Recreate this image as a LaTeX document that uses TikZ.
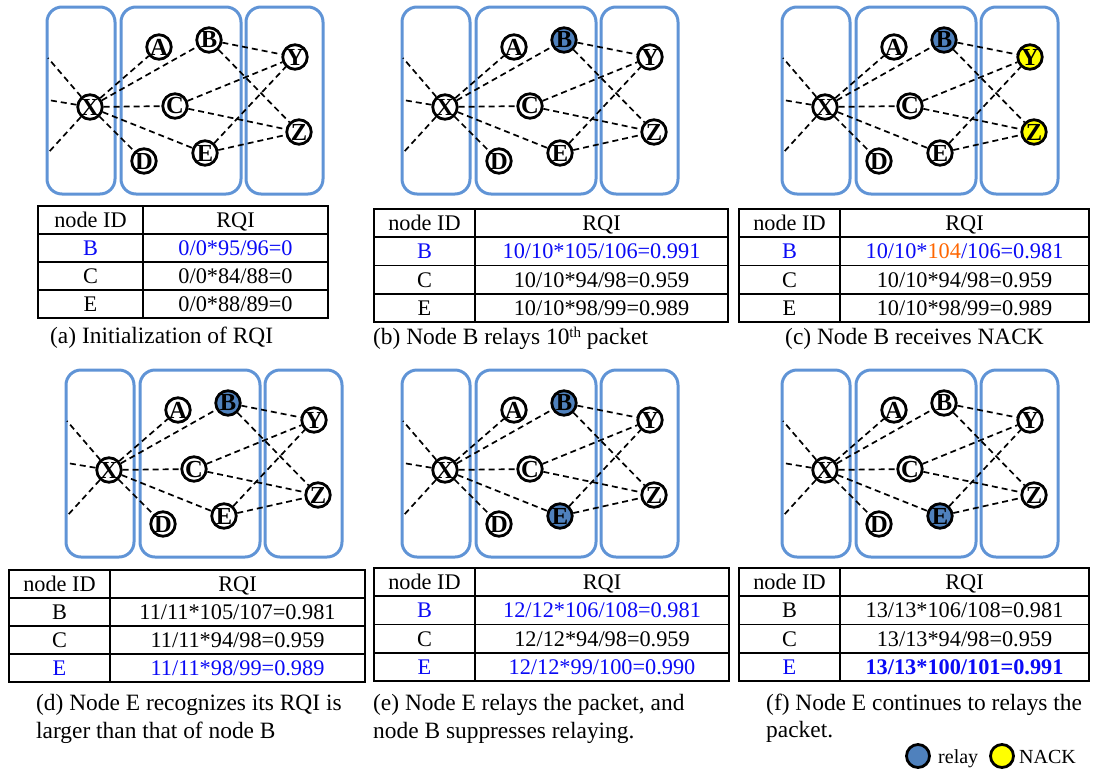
\documentclass[tikz,border=0pt]{standalone}
\usepackage{fontspec}
\setmainfont{Liberation Serif}
\definecolor{boxblue}{RGB}{96,148,214}
\definecolor{relayblue}{RGB}{79,129,189}
\definecolor{nackyellow}{RGB}{255,255,0}
\definecolor{txtblue}{RGB}{10,10,245}
\definecolor{txtorange}{RGB}{255,102,0}
\tikzset{
 grp/.style={draw=boxblue, line width=3pt, rounded corners=15pt},
 nd/.style={circle, draw=black, line width=2.8pt, minimum size=24.5pt, inner sep=0pt,
   font=\fontsize{24.5}{24.5}\selectfont\bfseries, fill=white},
 relay/.style={fill=relayblue},
 nack/.style={fill=nackyellow},
 link/.style={dash pattern=on 6pt off 4pt, line width=1.7pt},
 tline/.style={line width=1.6pt},
 ttxt/.style={font=\fontsize{22.3}{26}\selectfont, inner sep=0pt, text height=14.8pt, text depth=0pt},
 captxt/.style={font=\fontsize{23.4}{28}\selectfont, anchor=base west, inner sep=0pt},
 legtxt/.style={font=\fontsize{20}{24}\selectfont, anchor=base west, inner sep=0pt},
}
\newcommand\panel[7]{%
\begin{scope}[shift={(#2,#3)}]
 \draw[grp] (47,7) rectangle (115,194);
 \draw[grp] (121,7) rectangle (241,194);
 \draw[grp] (246,7) rectangle (323,194);
 \node[nd] (#1X) at (90,107) {X};
 \node[nd] (#1A) at (159,47) {A};
 \node[nd,#4] (#1B) at (209,40) {B};
 \node[nd] (#1C) at (175,106) {C};
 \node[nd] (#1D) at (144,161) {D};
 \node[nd,#5] (#1E) at (205,153) {E};
 \node[nd,#6] (#1Y) at (295,57) {Y};
 \node[nd,#7] (#1Z) at (299,132) {Z};
 \coordinate (#1L1) at (48,58);
 \coordinate (#1L2) at (48,100);
 \coordinate (#1L3) at (48,153);
 \draw[link] (#1X) -- (#1L1);
 \draw[link] (#1X) -- (#1L2);
 \draw[link] (#1X) -- (#1L3);
 \draw[link] (#1X) -- (#1A);
 \draw[link] (#1X) -- (#1B);
 \draw[link] (#1X) -- (#1C);
 \draw[link] (#1X) -- (#1D);
 \draw[link] (#1X) -- (#1E);
 \draw[link] (#1B) -- (#1Y);
 \draw[link] (#1B) -- (#1Z);
 \draw[link] (#1C) -- (#1Y);
 \draw[link] (#1C) -- (#1Z);
 \draw[link] (#1E) -- (#1Y);
 \draw[link] (#1E) -- (#1Z);
\end{scope}}
\newcommand\rqigrid[6]{%
 \draw[tline] (#2,#5) rectangle (#4,#6);
 \draw[tline] (#3,#5) -- (#3,#6);
 \foreach \k in {1,2,3} {\draw[tline] (#2,{#5+\k*(#6-#5)/4}) -- (#4,{#5+\k*(#6-#5)/4});}
 \foreach \k/\n in {0/h,1/b,2/c,3/e} {
   \coordinate (#1\n1) at ({(#2+#3)/2},{#5+(\k+0.5)*(#6-#5)/4});
   \coordinate (#1\n2) at ({(#3+#4)/2},{#5+(\k+0.5)*(#6-#5)/4});
 }
 \node[ttxt] (#1H1) at (#1h1) {node ID};
 \node[ttxt] (#1H2) at (#1h2) {RQI};
 \node[ttxt] (#1C1) at (#1c1) {C};
}
\begin{document}
\begin{tikzpicture}[x=1pt,y=-1pt]
\useasboundingbox (0,0) rectangle (1094,769);
% graphs
\panel{a}{0}{0}{}{}{}{}
\panel{b}{355}{0}{relay}{}{}{}
\panel{c}{735}{0}{relay}{}{nack}{nack}
\panel{d}{19}{363}{relay}{}{}{}
\panel{e}{355}{363}{relay}{relay}{}{}
\panel{f}{735}{363}{}{relay}{}{}
% tables
\rqigrid{ta}{38}{143}{328}{206}{318}
\node[ttxt,txtblue] (taB1) at (tab1) {B};
\node[ttxt,txtblue] (taB2) at (tab2) {0/0*95/96=0};
\node[ttxt] (taC2) at (tac2) {0/0*84/88=0};
\node[ttxt] (taE1) at (tae1) {E};
\node[ttxt] (taE2) at (tae2) {0/0*88/89=0};
\rqigrid{tb}{374}{475}{728}{209}{322}
\node[ttxt,txtblue] (tbB1) at (tbb1) {B};
\node[ttxt,txtblue] (tbB2) at (tbb2) {10/10*105/106=0.991};
\node[ttxt] (tbC2) at (tbc2) {10/10*94/98=0.959};
\node[ttxt] (tbE1) at (tbe1) {E};
\node[ttxt] (tbE2) at (tbe2) {10/10*98/99=0.989};
\rqigrid{tc}{739}{840}{1089}{209}{322}
\node[ttxt,txtblue] (tcB1) at (tcb1) {B};
\node[ttxt,txtblue] (tcB2) at (tcb2) {10/10*\textcolor{txtorange}{104}/106=0.981};
\node[ttxt] (tcC2) at (tcc2) {10/10*94/98=0.959};
\node[ttxt] (tcE1) at (tce1) {E};
\node[ttxt] (tcE2) at (tce2) {10/10*98/99=0.989};
\rqigrid{td}{9}{110}{365}{570}{682}
\node[ttxt] (tdB1) at (tdb1) {B};
\node[ttxt] (tdB2) at (tdb2) {11/11*105/107=0.981};
\node[ttxt] (tdC2) at (tdc2) {11/11*94/98=0.959};
\node[ttxt,txtblue] (tdE1) at (tde1) {E};
\node[ttxt,txtblue] (tdE2) at (tde2) {11/11*98/99=0.989};
\rqigrid{te}{374}{475}{729}{568}{681}
\node[ttxt,txtblue] (teB1) at (teb1) {B};
\node[ttxt,txtblue] (teB2) at (teb2) {12/12*106/108=0.981};
\node[ttxt] (teC2) at (tec2) {12/12*94/98=0.959};
\node[ttxt,txtblue] (teE1) at (tee1) {E};
\node[ttxt,txtblue] (teE2) at (tee2) {12/12*99/100=0.990};
\rqigrid{tf}{739}{840}{1089}{568}{681}
\node[ttxt] (tfB1) at (tfb1) {B};
\node[ttxt] (tfB2) at (tfb2) {13/13*106/108=0.981};
\node[ttxt] (tfC2) at (tfc2) {13/13*94/98=0.959};
\node[ttxt,txtblue] (tfE1) at (tfe1) {E};
\node[ttxt,txtblue] (tfE2) at (tfe2) {\bfseries 13/13*100/101=0.991};
% captions
\node[captxt] (capa) at (50,343) {(a) Initialization of RQI};
\node[captxt] (capb) at (373,344) {(b) Node B relays 10{\raisebox{7pt}{\fontsize{15}{15}\selectfont th}} packet};
\node[captxt] (capc) at (785,344) {(c) Node B receives NACK};
\node[captxt] (capd1) at (36,710) {(d) Node E recognizes its RQI is};
\node[captxt] (capd2) at (36,738) {larger than that of node B};
\node[captxt] (cape1) at (373,710) {(e) Node E relays the packet, and};
\node[captxt] (cape2) at (373,738) {node B suppresses relaying.};
\node[captxt] (capf1) at (766,710) {(f) Node E continues to relays the};
\node[captxt] (capf2) at (766,737) {packet.};
% legend
\node[nd,relay,minimum size=23pt] (legR) at (918,756) {};
\node[legtxt] (legRt) at (938,763) {relay};
\node[nd,nack,minimum size=23pt] (legN) at (1002,756) {};
\node[legtxt] (legNt) at (1019,763) {NACK};
\end{tikzpicture}
\end{document}
